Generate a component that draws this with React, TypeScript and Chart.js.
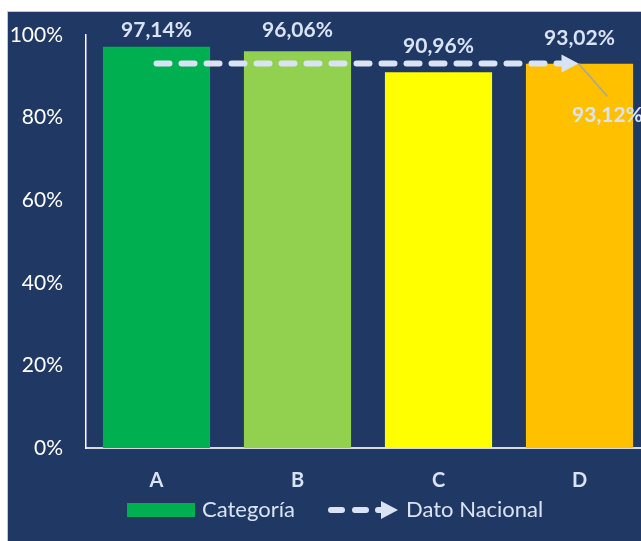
import React, { useEffect, useRef } from "react";
import { Chart, registerables } from "chart.js";

Chart.register(...registerables);

const categories = ["A", "B", "C", "D"];
const categoryValues = [97.14, 96.06, 90.96, 93.02];
const nationalValues = [93.12, 93.12, 93.12, 93.12];
const barColors = ["#00B050", "#92D050", "#FFFF00", "#FFC000"];
const yMin = 0;
const yMax = 100;
const yStep = 20;
const legendLabels = ["Categoría", "Dato Nacional"];

const FONT = "Lato, 'Open Sans', sans-serif";
const NAVY = "#203864";
const LABEL_COLOR = "#DAE3F3";

const fmt = (v: number) => v.toFixed(2).replace(".", ",") + "%";

export default function App() {
  const ref = useRef<HTMLCanvasElement | null>(null);

  useEffect(() => {
    if (!ref.current) return;

    const barLabels = {
      id: "barLabels",
      afterDatasetsDraw(chart: any) {
        const ctx = chart.ctx;
        const meta = chart.getDatasetMeta(0);
        ctx.save();
        ctx.font = `bold 21px ${FONT}`;
        ctx.fillStyle = LABEL_COLOR;
        ctx.textAlign = "center";
        ctx.textBaseline = "middle";
        meta.data.forEach((bar: any, i: number) => {
          const y = Math.max(bar.y - 26, 18);
          ctx.fillText(fmt(categoryValues[i]), bar.x, y);
        });
        ctx.restore();
      },
    };

    const arrowPlugin = {
      id: "arrowPlugin",
      afterDatasetsDraw(chart: any) {
        const ctx = chart.ctx;
        const meta = chart.getDatasetMeta(1);
        const pts = meta.data;
        const last = pts[pts.length - 1];
        const x = last.x - 1;
        const y = last.y;
        ctx.save();
        ctx.fillStyle = LABEL_COLOR;
        ctx.beginPath();
        ctx.moveTo(x, y);
        ctx.lineTo(x - 17, y - 9);
        ctx.lineTo(x - 17, y + 9);
        ctx.closePath();
        ctx.fill();
        ctx.strokeStyle = "#A6A6A6";
        ctx.lineWidth = 1.5;
        ctx.beginPath();
        ctx.moveTo(x, y);
        ctx.lineTo(x + 29, y + 33);
        ctx.stroke();
        ctx.font = `bold 21px ${FONT}`;
        ctx.fillStyle = LABEL_COLOR;
        ctx.textAlign = "center";
        ctx.textBaseline = "middle";
        ctx.fillText(fmt(nationalValues[nationalValues.length - 1]), x + 29, y + 52);
        ctx.restore();
      },
    };

    const customLegend = {
      id: "customLegend",
      afterDraw(chart: any) {
        const ctx = chart.ctx;
        const cy = 498;
        ctx.save();
        ctx.fillStyle = barColors[0];
        ctx.fillRect(119, cy - 7, 68, 14);
        ctx.font = `22px ${FONT}`;
        ctx.fillStyle = LABEL_COLOR;
        ctx.textAlign = "left";
        ctx.textBaseline = "middle";
        ctx.fillText(legendLabels[0], 194, cy);
        ctx.strokeStyle = LABEL_COLOR;
        ctx.lineWidth = 6;
        ctx.lineCap = "round";
        ctx.beginPath();
        ctx.moveTo(323, cy);
        ctx.lineTo(334, cy);
        ctx.moveTo(347, cy);
        ctx.lineTo(358, cy);
        ctx.moveTo(370, cy);
        ctx.lineTo(374, cy);
        ctx.stroke();
        ctx.fillStyle = LABEL_COLOR;
        ctx.beginPath();
        ctx.moveTo(390, cy);
        ctx.lineTo(373, cy - 9);
        ctx.lineTo(373, cy + 9);
        ctx.closePath();
        ctx.fill();
        ctx.fillText(legendLabels[1], 398, cy);
        ctx.restore();
      },
    };

    const chart = new Chart(ref.current, {
      type: "bar",
      data: {
        labels: categories,
        datasets: [
          {
            type: "bar",
            label: legendLabels[0],
            data: categoryValues,
            backgroundColor: barColors,
            borderWidth: 0,
            barPercentage: 0.76,
            categoryPercentage: 1,
            order: 2,
          },
          {
            type: "line",
            label: legendLabels[1],
            data: nationalValues,
            borderColor: LABEL_COLOR,
            borderWidth: 6,
            borderDash: [13, 12],
            borderCapStyle: "round",
            pointRadius: 0,
            fill: false,
            order: 1,
          } as any,
        ],
      },
      options: {
        responsive: false,
        animation: false,
        devicePixelRatio: 1,
        layout: { padding: { top: 23, right: 38, left: 0, bottom: 0 } },
        plugins: {
          legend: { display: false },
          tooltip: { enabled: false },
        },
        scales: {
          x: {
            grid: { display: false, drawTicks: false },
            border: { display: true, color: "#D9D9D9", width: 2 },
            ticks: {
              color: LABEL_COLOR,
              font: { family: FONT, size: 20, weight: "bold" },
              padding: 21,
            },
            afterFit(scale: any) {
              scale.height = 93;
            },
          },
          y: {
            min: yMin,
            max: yMax,
            grid: { display: false, drawTicks: false },
            border: { display: true, color: "#FFFFFF", width: 1.5 },
            ticks: {
              stepSize: yStep,
              color: "#FFFFFF",
              font: { family: FONT, size: 21 },
              padding: 23,
              callback: (v: any) => v + "%",
            },
            afterFit(scale: any) {
              scale.width = 78;
              scale.paddingTop = 0;
              scale.paddingBottom = 0;
            },
          },
        },
      },
      plugins: [barLabels, arrowPlugin, customLegend],
    });

    return () => chart.destroy();
  }, []);

  return (
    <div
      style={{
        position: "fixed",
        left: 0,
        top: 0,
        width: 641,
        height: 541,
        overflow: "hidden",
        background: "#FFFFFF",
      }}
    >
      <div
        style={{
          position: "absolute",
          left: 7,
          top: 11,
          width: 700,
          height: 560,
          border: "1px solid #C8C8C8",
          background: NAVY,
        }}
      />
      <canvas
        ref={ref}
        width={680}
        height={529}
        style={{ position: "absolute", left: 8, top: 12, width: 680, height: 529 }}
      />
    </div>
  );
}
